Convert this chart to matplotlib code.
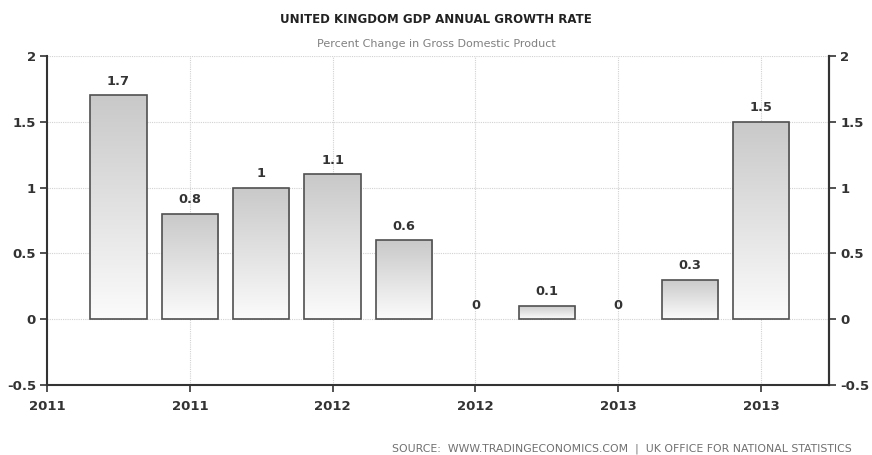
import numpy as np
import matplotlib
matplotlib.use("Agg")
import matplotlib.pyplot as plt
from matplotlib.colors import LinearSegmentedColormap

# quarterly GDP growth (%)
positions = [1, 2, 3, 4, 5, 6, 7, 8, 9, 10]
values = [1.7, 0.8, 1.0, 1.1, 0.6, 0.0, 0.1, 0.0, 0.3, 1.5]
value_labels = ["1.7", "0.8", "1", "1.1", "0.6", "0", "0.1", "0", "0.3", "1.5"]
tick_pos = [0, 2, 4, 6, 8, 10]
tick_labels = ["2011", "2011", "2012", "2012", "2013", "2013"]
y_ticks = [-0.5, 0, 0.5, 1, 1.5, 2]
y_labels = ["-0.5", "0", "0.5", "1", "1.5", "2"]

plt.rcParams['font.family'] = ['DejaVu Sans']
dark = "#333333"

fig = plt.figure(figsize=(8.72, 4.55), dpi=100)
ax = fig.add_axes([0.0539, 0.1538, 0.8968, 0.7232])

bars = ax.bar(positions, values, width=0.79, facecolor="none",
              edgecolor="#505050", linewidth=1.2, zorder=3)

# grey-to-white gradient inside every bar
grad_cmap = LinearSegmentedColormap.from_list("g", ["#fbfbfb", "#c9c9c9"])
grad = np.linspace(0, 1, 100).reshape(-1, 1)
for b in bars:
    h = b.get_height()
    if h <= 0:
        b.set_linewidth(0)   # zero bars show no outline
        continue
    x0 = b.get_x()
    im = ax.imshow(grad, cmap=grad_cmap, origin="lower", aspect="auto",
                   extent=(x0, x0 + b.get_width(), 0, h), zorder=2)
    im.set_clip_path(b)

for p, v, lab in zip(positions, values, value_labels):
    ax.annotate(lab, (p, v), xytext=(0, 5.5), textcoords="offset points",
                ha="center", va="bottom", fontsize=9.3, fontweight="bold",
                color=dark)

ax.set_xlim(0, 10.95)
ax.set_ylim(-0.5, 2)
ax.set_xticks(tick_pos)
ax.set_xticklabels(tick_labels)
ax.set_yticks(y_ticks)
ax.set_yticklabels(y_labels)

ax.grid(True, color="#d2d2d2", linestyle=(0, (1, 1)), linewidth=0.8, zorder=0)
ax.set_axisbelow(True)

ax.spines["top"].set_visible(False)
for s in ["left", "right", "bottom"]:
    ax.spines[s].set_color(dark)
    ax.spines[s].set_linewidth(1.5)

ax.tick_params(axis="both", direction="out", length=5, width=1.2, color=dark,
               labelsize=9.5, labelcolor=dark, pad=3)
ax.tick_params(axis="x", pad=6)
for t in ax.get_xticklabels() + ax.get_yticklabels():
    t.set_fontweight("bold")

ax2 = ax.twinx()
ax2.set_ylim(-0.5, 2)
ax2.set_yticks(y_ticks)
ax2.set_yticklabels(y_labels)
for s in ["top", "left", "bottom"]:
    ax2.spines[s].set_visible(False)
ax2.spines["right"].set_color(dark)
ax2.spines["right"].set_linewidth(1.5)
ax2.tick_params(axis="y", direction="out", length=5, width=1.2, color=dark,
                labelsize=9.5, labelcolor=dark, pad=3)
for t in ax2.get_yticklabels():
    t.set_fontweight("bold")

fig.text(0.5, 0.958, "UNITED KINGDOM GDP ANNUAL GROWTH RATE", ha="center",
         va="center", fontsize=8.5, fontweight="bold", color="#222222")
fig.text(0.5, 0.903, "Percent Change in Gross Domestic Product", ha="center",
         va="center", fontsize=8, color="#808080")
fig.text(0.977, 0.003, "SOURCE:  WWW.TRADINGECONOMICS.COM  |  UK OFFICE FOR NATIONAL STATISTICS",
         ha="right", va="bottom", fontsize=7.8, color="#707070")

fig.savefig("out.png", dpi=100)
